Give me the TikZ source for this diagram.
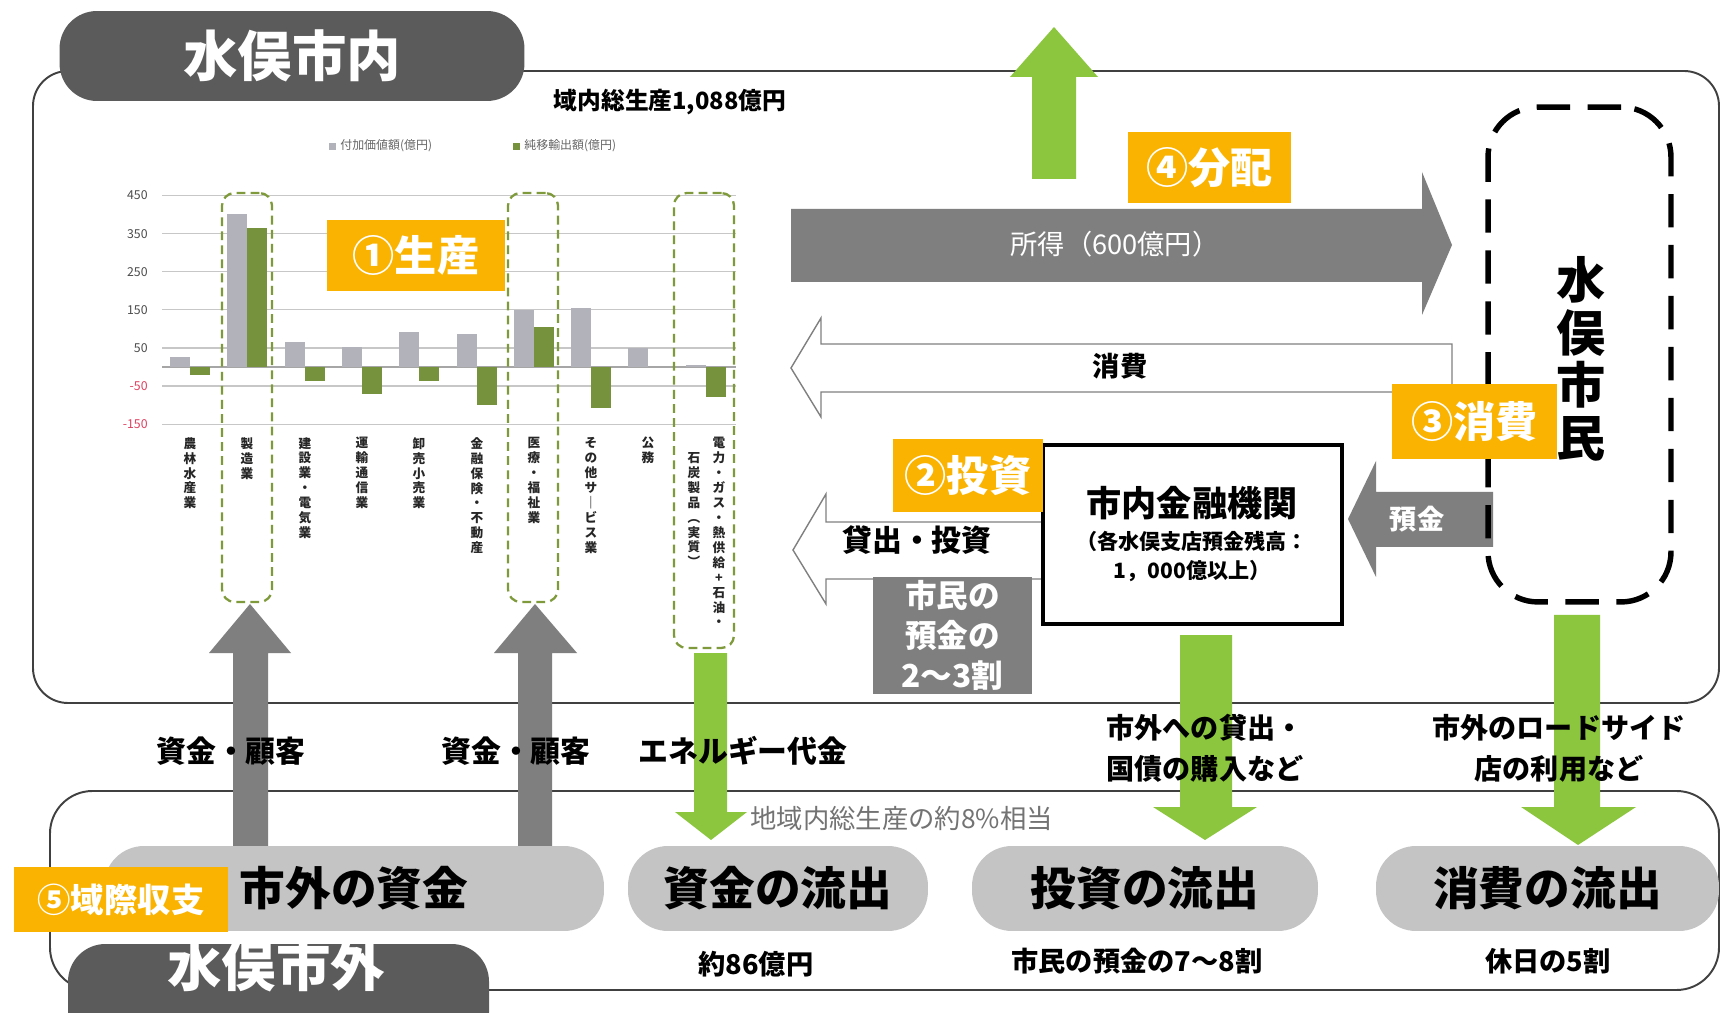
\documentclass[tikz,border=0pt]{standalone}
\usepackage{fontspec}
\setmainfont{Noto Sans CJK JP}

\definecolor{tabgray}{HTML}{5B5B5B}
\definecolor{arrowgray}{HTML}{7F7F7F}
\definecolor{pillgray}{HTML}{C4C4C4}
\definecolor{flowgreen}{HTML}{8CC63F}
\definecolor{badgeorange}{HTML}{FAB300}
\definecolor{bargray}{HTML}{B2B2BA}
\definecolor{bargreen}{HTML}{76923C}
\definecolor{boxgreen}{HTML}{7E9A3A}
\definecolor{tickred}{HTML}{E04060}

\newcommand{\fsz}[1]{\fontsize{#1}{#1}\selectfont}

\tikzset{
  tab/.style={fill=tabgray, rounded corners=0.75cm, text=white, inner sep=0pt, font=\bfseries\fsz{31}},
  badge/.style={fill=badgeorange, text=white, inner sep=0pt, font=\bfseries\fsz{24}},
  pill/.style={fill=pillgray, rounded corners=0.8cm, inner sep=0pt, font=\bfseries\fsz{26}},
  catbox/.style={draw=boxgreen, line width=1.3pt, dash pattern=on 5pt off 3pt, rounded corners=0.25cm, inner sep=0pt},
  hollow/.style={draw=gray, fill=white, line width=0.8pt},
  boldtext/.style={font=\bfseries\fsz{17}, inner sep=0pt},
  note/.style={font=\bfseries\fsz{15.5}, inner sep=0pt},
  cat/.style={anchor=north, align=center, inner sep=0pt, font={\bfseries\fontsize{7.2}{8.5}\selectfont}, text=black!85},
  gridline/.style={draw=black!22, line width=0.7pt}
}

\begin{document}
\begin{tikzpicture}[x=0.02cm, y=-0.02cm]
\useasboundingbox[fill=white] (0,0) rectangle (1722,1013);

% frames
\draw[black!75, line width=1.1pt, rounded corners=0.7cm] (33,71) rectangle (1719,703);
\draw[black!75, line width=1.1pt, rounded corners=0.85cm] (50,791) rectangle (1719,990);

\node[tab, minimum width=9.3cm, minimum height=1.8cm] (inside) at (292,56) {水俣市内};
\fill[tabgray, rounded corners=0.75cm] (68,944) rectangle (489,1050);
\node[text=white, font=\bfseries\fsz{31}, inner sep=0pt] (outside) at (276,966) {水俣市外};

\node[font=\bfseries\fsz{13.5}, inner sep=0pt] (gdp) at (670,102) {域内総生産1,088億円};

% legend
\fill[bargray] (329,143) rectangle (336,150);
\node[anchor=west, font=\fsz{6.8}, text=black!60, inner sep=0pt] (leggray) at (340,146) {付加価値額(億円)};
\fill[bargreen] (513,143) rectangle (520,150);
\node[anchor=west, font=\fsz{6.8}, text=black!60, inner sep=0pt] (leggreen) at (524,146) {純移輸出額(億円)};

% chart
\begin{scope}[shift={(0,367)}, yscale=-0.381]
\foreach \v in {450,350,250,150,50,-50,-150}
  \draw[gridline] (162,\v) -- (736,\v);
\draw[black!35, line width=0.8pt] (162,0) -- (736,0);
\foreach \v in {450,350,250,150,50}
  \node[anchor=east, font=\fsz{7}, text=black!70, inner sep=0pt] at (148,\v) {\v};
\node[anchor=east, font=\fsz{7}, text=tickred, inner sep=0pt] at (148,-50) {-50};
\node[anchor=east, font=\fsz{7}, text=tickred, inner sep=0pt] at (148,-150) {-150};
\fill[bargray] (170,0) rectangle (190,25);
\fill[bargreen] (190,0) rectangle (210,-22);
\fill[bargray] (227,0) rectangle (247,402);
\fill[bargreen] (247,0) rectangle (267,366);
\fill[bargray] (285,0) rectangle (305,65);
\fill[bargreen] (305,0) rectangle (325,-37);
\fill[bargray] (342,0) rectangle (362,53);
\fill[bargreen] (362,0) rectangle (382,-70);
\fill[bargray] (399,0) rectangle (419,93);
\fill[bargreen] (419,0) rectangle (439,-37);
\fill[bargray] (457,0) rectangle (477,87);
\fill[bargreen] (477,0) rectangle (497,-100);
\fill[bargray] (514,0) rectangle (534,150);
\fill[bargreen] (534,0) rectangle (554,105);
\fill[bargray] (571,0) rectangle (591,156);
\fill[bargreen] (591,0) rectangle (611,-107);
\fill[bargray] (628,0) rectangle (648,50);
\fill[bargray] (686,0) rectangle (706,5);
\fill[bargreen] (706,0) rectangle (726,-80);
\end{scope}

% category names
\node[cat] (c0) at (190,437) {農\\林\\水\\産\\業};
\node[cat] (c1) at (247,437) {製\\造\\業};
\node[cat] (c2) at (305,437) {建\\設\\業\\・\\電\\気\\業};
\node[cat] (c3) at (362,437) {運\\輸\\通\\信\\業};
\node[cat] (c4) at (419,437) {卸\\売\\小\\売\\業};
\node[cat] (c5) at (477,437) {金\\融\\保\\険\\・\\不\\動\\産};
\node[cat] (c6) at (534,437) {医\\療\\・\\福\\祉\\業};
\node[cat] (c7) at (591,437) {そ\\の\\他\\サ\\｜\\ビ\\ス\\業};
\node[cat] (c8) at (648,437) {公\\務};
\node[cat] (c9a) at (719,437) {電\\力\\・\\ガ\\ス\\・\\熱\\供\\給\\+\\石\\油\\・};
\node[cat] (c9b) at (694,452) {石\\炭\\製\\品\\︵\\実\\質\\︶};

\node[catbox, minimum width=1.0cm, minimum height=8.18cm] (boxmfg) at (247,397.5) {};
\node[catbox, minimum width=1.0cm, minimum height=8.18cm] (boxwelfare) at (533,397.5) {};
\node[catbox, minimum width=1.2cm, minimum height=9.1cm] (boxenergy) at (704,420.5) {};

% flows
\fill[flowgreen] (1032,179) -- (1032,77) -- (1010,77) -- (1054,27) -- (1098,77) -- (1076,77) -- (1076,179) -- cycle;
\fill[arrowgray] (791,209) -- (1422,209) -- (1422,172) -- (1452,245) -- (1422,315) -- (1422,282) -- (791,282) -- cycle;
\draw[hollow] (1452,344) -- (821,344) -- (821,318) -- (791,368) -- (821,417) -- (821,392) -- (1452,392) -- cycle;
\draw[hollow] (1043,522) -- (826,522) -- (826,494) -- (793,550) -- (826,604) -- (826,579) -- (1043,579) -- cycle;
\fill[arrowgray] (1493,492) -- (1376,492) -- (1376,461) -- (1348,519) -- (1376,577) -- (1376,547) -- (1493,547) -- cycle;
\fill[arrowgray] (233,850) -- (233,653) -- (209,653) -- (250,604) -- (291,653) -- (268,653) -- (268,850) -- cycle;
\fill[arrowgray] (518,850) -- (518,653) -- (494,653) -- (535,604) -- (577,653) -- (552,653) -- (552,850) -- cycle;
\fill[flowgreen] (694,653) -- (694,812) -- (675,812) -- (711,840) -- (747,812) -- (727,812) -- (727,653) -- cycle;
\fill[flowgreen] (1180,635) -- (1180,807) -- (1153,807) -- (1205,840) -- (1257,807) -- (1232,807) -- (1232,635) -- cycle;
\fill[flowgreen] (1554,615) -- (1554,807) -- (1521,807) -- (1578,845) -- (1636,807) -- (1600,807) -- (1600,615) -- cycle;

% citizens and bank
\node[draw=black, line width=3.1pt, dash pattern=on 19pt off 10pt, rounded corners=1cm, minimum width=3.66cm, minimum height=9.9cm] (citizens) at (1579.5,354.5) {};
\node[align=center, font={\bfseries\fontsize{28}{30}\selectfont}, inner sep=0pt] (citizenslabel) at (1581,359) {水\\俣\\市\\民};
\node[draw=black, line width=2.3pt, fill=white, minimum width=5.98cm, minimum height=3.58cm] (bank) at (1192.5,534.5) {};
\node[font=\bfseries\fsz{20}, inner sep=0pt] (banktitle) at (1192,503) {市内金融機関};
\node[font=\bfseries\fsz{12}, inner sep=0pt] (banknote1) at (1192,541) {（各水俣支店預金残高：};
\node[font=\bfseries\fsz{12}, inner sep=0pt] (banknote2) at (1192,571) {1，000億以上）};
\node[fill=arrowgray, text=white, align=center, inner sep=0pt, font={\bfseries\fontsize{18}{23}\selectfont}, minimum width=3.18cm, minimum height=2.34cm] (share) at (952.5,635.5) {市民の\\預金の\\2～3割};

% badges
\node[badge, minimum width=3.56cm, minimum height=1.42cm] (production) at (416,255.5) {①生産};
\node[badge, minimum width=3.26cm, minimum height=1.42cm] (distribution) at (1209.5,167.5) {④分配};
\node[badge, minimum width=3.3cm, minimum height=1.5cm] (consumption) at (1474.5,421.5) {③消費};
\node[badge, minimum width=3.0cm, minimum height=1.46cm] (investment) at (968,475.5) {②投資};

% flow labels
\node[text=white, font=\fsz{15.5}, inner sep=0pt] (income) at (1115,244) {所得（600億円）};
\node[boldtext, font=\bfseries\fsz{15.5}] (spend) at (1120,366) {消費};
\node[boldtext] (lending) at (917,540) {貸出・投資};
\node[text=white, font=\bfseries\fsz{15.5}, inner sep=0pt] (deposit) at (1417,519) {預金};
\node[boldtext] (fundsa) at (231,751) {資金・顧客};
\node[boldtext] (fundsb) at (516,751) {資金・顧客};
\node[boldtext] (energy) at (743,751) {エネルギー代金};
\node[boldtext, font=\bfseries\fsz{16}] (outlenda) at (1205,728) {市外への貸出・};
\node[boldtext, font=\bfseries\fsz{16}] (outlendb) at (1205,769) {国債の購入など};
\node[boldtext, font=\bfseries\fsz{16}] (roadsidea) at (1559,728) {市外のロードサイド};
\node[boldtext, font=\bfseries\fsz{16}] (roadsideb) at (1559,769) {店の利用など};
\node[anchor=west, font=\fsz{15}, text=black!55, inner sep=0pt] (gdpshare) at (750,818) {地域内総生産の約8\%相当};

% outflows
\node[pill, minimum width=10cm, minimum height=1.7cm] (outfunds) at (354,888.5) {市外の資金};
\node[pill, minimum width=6cm, minimum height=1.7cm] (fundsout) at (778,888.5) {資金の流出};
\node[pill, minimum width=6.92cm, minimum height=1.7cm] (investout) at (1145,888.5) {投資の流出};
\node[pill, minimum width=6.86cm, minimum height=1.7cm] (spendout) at (1547.5,888.5) {消費の流出};
\node[badge, font=\bfseries\fsz{19}, minimum width=4.3cm, minimum height=1.3cm] (balance) at (121,899.5) {⑤域際収支};

\node[note] (fundsoutnote) at (756,964) {約86億円};
\node[note] (investoutnote) at (1137,961) {市民の預金の7～8割};
\node[note] (spendoutnote) at (1548,961) {休日の5割};
\end{tikzpicture}
\end{document}
